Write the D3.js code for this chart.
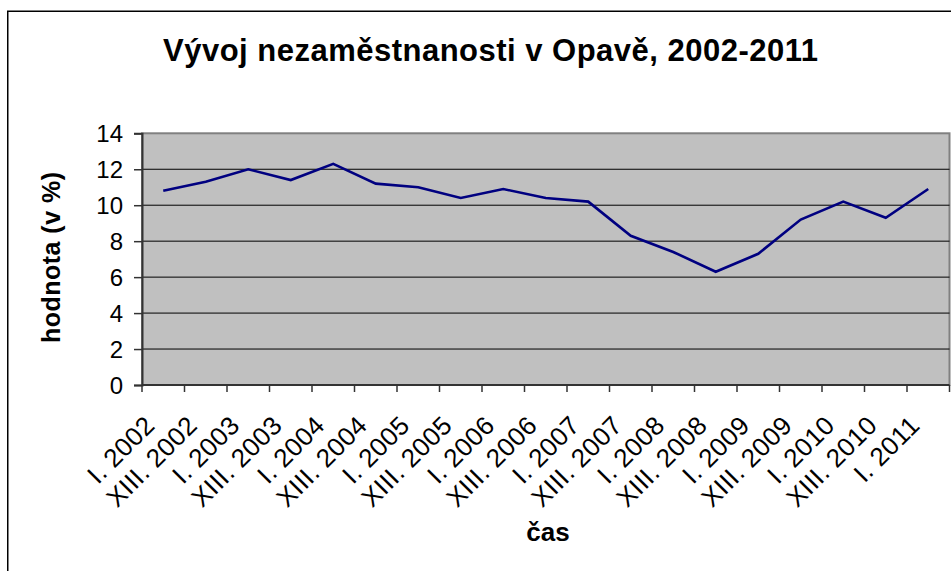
<!DOCTYPE html>
<html>
<head>
<meta charset="utf-8">
<script src="https://cdn.jsdelivr.net/npm/d3@7"></script>
<style>
  html, body { margin: 0; padding: 0; background: #fff; }
  svg { display: block; }
  text { font-family: "Liberation Sans", Arial, sans-serif; fill: #000; }
</style>
</head>
<body>
<svg id="chart" width="951" height="571"></svg>
<script>
// Unemployment rate in Opava, half-yearly readings
const categories = [
  "I. 2002", "XIII. 2002", "I. 2003", "XIII. 2003", "I. 2004", "XIII. 2004",
  "I. 2005", "XIII. 2005", "I. 2006", "XIII. 2006", "I. 2007", "XIII. 2007",
  "I. 2008", "XIII. 2008", "I. 2009", "XIII. 2009", "I. 2010", "XIII. 2010",
  "I. 2011"
];
const values = [
  10.8, 11.3, 12.0, 11.4, 12.3, 11.2,
  11.0, 10.4, 10.9, 10.4, 10.2, 8.3,
  7.4, 6.3, 7.3, 9.2, 10.2, 9.3,
  10.9
];
const yTicks = [0, 2, 4, 6, 8, 10, 12, 14];

const titleText = "Vývoj nezaměstnanosti v Opavě, 2002-2011";
const yTitleText = "hodnota (v %)";
const xTitleText = "čas";

const svg = d3.select("#chart");
const plot = { left: 142, right: 949.5, top: 133.3, bottom: 385 };

// outer chart frame (runs past the right and bottom edges)
svg.append("rect")
  .attr("x", 7.75).attr("y", 11.25)
  .attr("width", 1200).attr("height", 1200)
  .attr("fill", "none").attr("stroke", "#000").attr("stroke-width", 1.5);

const x = d3.scaleBand().domain(categories).range([plot.left, plot.right]).padding(0);
const y = d3.scaleLinear().domain([0, 14]).range([plot.bottom, plot.top]);

// plot area
svg.append("rect")
  .attr("x", plot.left).attr("y", plot.top)
  .attr("width", plot.right - plot.left).attr("height", plot.bottom - plot.top)
  .attr("fill", "#c0c0c0").attr("stroke", "#808080").attr("stroke-width", 2);

// horizontal gridlines
svg.append("g")
  .selectAll("line")
  .data(yTicks.filter(t => t > 0 && t < 14))
  .join("line")
  .attr("x1", plot.left).attr("x2", plot.right)
  .attr("y1", d => y(d)).attr("y2", d => y(d))
  .attr("stroke", "#000").attr("stroke-width", 1);

// y axis
const yAxis = svg.append("g")
  .attr("transform", `translate(${plot.left},0)`)
  .call(d3.axisLeft(y).tickValues(yTicks).tickSize(8).tickPadding(11).tickFormat(d3.format("d")));
yAxis.select(".domain").attr("stroke", "#333").attr("stroke-width", 2);
yAxis.selectAll(".tick line").attr("stroke", "#333").attr("stroke-width", 1.5);
yAxis.selectAll(".tick text")
  .attr("font-size", 24).attr("font-family", "Liberation Sans, Arial, sans-serif")
  .attr("fill", "#000").attr("dy", "0.35em");

// x axis with ticks on band edges
const xAxis = svg.append("g")
  .attr("transform", `translate(0,${plot.bottom})`);
const edges = categories.map(c => x(c)).concat([x(categories[categories.length - 1]) + x.bandwidth()]);
xAxis.append("line")
  .attr("x1", plot.left).attr("x2", plot.right)
  .attr("stroke", "#333").attr("stroke-width", 2);
xAxis.selectAll(".edge")
  .data(edges)
  .join("line")
  .attr("class", "edge")
  .attr("x1", d => d).attr("x2", d => d)
  .attr("y1", 0).attr("y2", 7)
  .attr("stroke", "#333").attr("stroke-width", 1.5);

xAxis.selectAll(".lbl")
  .data(categories)
  .join("text")
  .attr("class", "lbl")
  .attr("transform", d => `translate(${x(d) + x.bandwidth() / 2 - 7},${42}) rotate(-45)`)
  .attr("text-anchor", "end")
  .attr("font-size", 26)
  .attr("letter-spacing", 0.4)
  .text(d => d);

// data line
const line = d3.line()
  .x((d, i) => x(categories[i]) + x.bandwidth() / 2)
  .y(d => y(d));
svg.append("path")
  .datum(values)
  .attr("d", line)
  .attr("fill", "none")
  .attr("stroke", "#000080")
  .attr("stroke-width", 2.6)
  .attr("stroke-linejoin", "miter");

// titles
svg.append("text")
  .attr("x", 490.5).attr("y", 61)
  .attr("text-anchor", "middle")
  .attr("font-size", 31).attr("font-weight", "bold")
  .attr("textLength", 655).attr("lengthAdjust", "spacing")
  .text(titleText);

svg.append("text")
  .attr("transform", `translate(60,257.5) rotate(-90)`)
  .attr("text-anchor", "middle")
  .attr("font-size", 25).attr("font-weight", "bold")
  .attr("textLength", 171).attr("lengthAdjust", "spacing")
  .text(yTitleText);

svg.append("text")
  .attr("x", 548).attr("y", 541)
  .attr("text-anchor", "middle")
  .attr("font-size", 26).attr("font-weight", "bold")
  .text(xTitleText);
</script>
</body>
</html>
